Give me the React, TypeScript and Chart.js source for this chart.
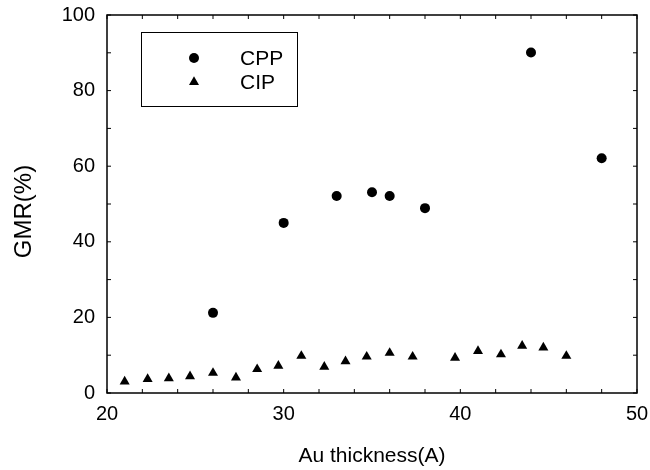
import React, { useEffect, useRef } from "react";
import { Chart, registerables } from "chart.js";

Chart.register(...registerables);

// Data
const cppThickness = [26, 30, 33, 35, 36, 38, 44, 48];
const cppGMR = [21.2, 45, 52.1, 53.1, 52.1, 48.9, 90.1, 62.1];
const cipThickness = [21.0, 22.3, 23.5, 24.7, 26.0, 27.3, 28.5, 29.7, 31.0, 32.3, 33.5, 34.7, 36.0, 37.3, 39.7, 41.0, 42.3, 43.5, 44.7, 46.0];
const cipGMR = [3.0, 3.7, 3.9, 4.4, 5.3, 4.1, 6.3, 7.2, 9.8, 6.9, 8.4, 9.6, 10.6, 9.6, 9.3, 11.1, 10.2, 12.5, 12.0, 9.8];
const seriesNames = ["CPP", "CIP"];
const xMajorTicks = [20, 30, 40, 50];
const xMinorTicks = [22, 24, 26, 28, 32, 34, 36, 38, 42, 44, 46, 48];
const yMajorTicks = [0, 20, 40, 60, 80, 100];
const yMinorTicks = [10, 30, 50, 70, 90];
const xTitle = "Au thickness(A)";
const yTitle = "GMR(%)";

const FONT = "'Liberation Sans', Arial, Helvetica, sans-serif";

const framePlugin = {
  id: "frameTicks",
  afterDraw(chart: any) {
    const { ctx, chartArea: a, scales } = chart;
    const x = scales.x;
    const y = scales.y;
    ctx.save();
    ctx.strokeStyle = "#000";
    ctx.lineWidth = 1.5;
    ctx.strokeRect(a.left, a.top, a.right - a.left, a.bottom - a.top);
    ctx.lineWidth = 1;
    const tl = 4;
    ctx.beginPath();
    [...xMajorTicks, ...xMinorTicks].forEach((v) => {
      const px = x.getPixelForValue(v);
      ctx.moveTo(px, a.bottom);
      ctx.lineTo(px, a.bottom - tl);
      ctx.moveTo(px, a.top);
      ctx.lineTo(px, a.top + tl);
    });
    [...yMajorTicks, ...yMinorTicks].forEach((v) => {
      const py = y.getPixelForValue(v);
      ctx.moveTo(a.left, py);
      ctx.lineTo(a.left + tl, py);
      ctx.moveTo(a.right, py);
      ctx.lineTo(a.right - tl, py);
    });
    ctx.stroke();

    // y axis title
    ctx.save();
    ctx.translate(24, 211.5);
    ctx.rotate(-Math.PI / 2);
    ctx.fillStyle = "#000";
    ctx.font = `24px ${FONT}`;
    ctx.textAlign = "center";
    ctx.textBaseline = "middle";
    ctx.fillText(yTitle, 0, 0);
    ctx.restore();

    // legend box
    const bx = 141.5, by = 32.5, bw = 156, bh = 74;
    ctx.lineWidth = 1;
    ctx.strokeRect(bx, by, bw, bh);
    const mx = 194;
    const rows = [58, 82];
    ctx.fillStyle = "#000";
    ctx.beginPath();
    ctx.arc(mx, rows[0], 5, 0, Math.PI * 2);
    ctx.fill();
    const r = 5.8;
    ctx.beginPath();
    ctx.moveTo(mx, rows[1] - r);
    ctx.lineTo(mx + r * Math.sin((2 * Math.PI) / 3), rows[1] - r * Math.cos((2 * Math.PI) / 3));
    ctx.lineTo(mx + r * Math.sin((4 * Math.PI) / 3), rows[1] - r * Math.cos((4 * Math.PI) / 3));
    ctx.closePath();
    ctx.fill();
    ctx.font = `21px ${FONT}`;
    ctx.textBaseline = "middle";
    ctx.textAlign = "left";
    chart.data.datasets.forEach((ds: any, i: number) => {
      ctx.fillText(ds.label, 240, rows[i] + 1);
    });
    ctx.restore();
  },
};

export default function App() {
  const ref = useRef<HTMLCanvasElement | null>(null);
  useEffect(() => {
    if (!ref.current) return;
    const chart = new Chart(ref.current, {
      type: "scatter",
      data: {
        datasets: [
          {
            label: seriesNames[0],
            data: cppThickness.map((t, i) => ({ x: t, y: cppGMR[i] })),
            pointStyle: "circle",
            pointRadius: 5,
            pointBorderWidth: 0,
            backgroundColor: "#000",
            borderColor: "#000",
          },
          {
            label: seriesNames[1],
            data: cipThickness.map((t, i) => ({ x: t, y: cipGMR[i] })),
            pointStyle: "triangle",
            pointRadius: 5.8,
            pointBorderWidth: 0,
            backgroundColor: "#000",
            borderColor: "#000",
          },
        ],
      },
      options: {
        animation: false,
        responsive: false,
        layout: { padding: { left: 10, top: 15, right: 13, bottom: 0 } },
        plugins: {
          legend: { display: false },
          tooltip: { enabled: false },
        },
        scales: {
          x: {
            type: "linear",
            position: "bottom",
            min: 20,
            max: 50,
            afterBuildTicks: (s: any) => {
              s.ticks = xMajorTicks.map((v) => ({ value: v }));
            },
            afterFit: (s: any) => {
              s.height = 77;
              s.paddingLeft = 0;
              s.paddingRight = 0;
            },
            grid: { display: false, drawTicks: false },
            border: { display: false },
            ticks: {
              color: "#000",
              font: { family: FONT, size: 20 },
              padding: 9,
              maxRotation: 0,
              autoSkip: false,
            },
            title: {
              display: true,
              text: xTitle,
              color: "#000",
              font: { family: FONT, size: 21 },
              padding: { top: 0, bottom: 1.5 },
            },
          },
          y: {
            type: "linear",
            min: 0,
            max: 100,
            afterBuildTicks: (s: any) => {
              s.ticks = yMajorTicks.map((v) => ({ value: v }));
            },
            afterFit: (s: any) => {
              s.width = 97;
              s.paddingTop = 0;
              s.paddingBottom = 0;
            },
            grid: { display: false, drawTicks: false },
            border: { display: false },
            ticks: {
              color: "#000",
              font: { family: FONT, size: 20 },
              padding: 12,
            },
            title: { display: false },
          },
        },
      },
      plugins: [framePlugin],
    });
    return () => chart.destroy();
  }, []);
  return (
    <div style={{ position: "fixed", left: 0, top: 0, width: 650, height: 470, background: "#fff" }}>
      <canvas ref={ref} width={650} height={470} />
    </div>
  );
}
